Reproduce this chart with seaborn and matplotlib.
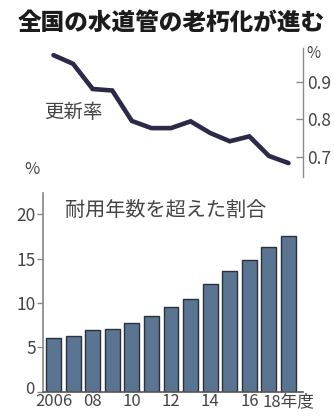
import numpy as np
import pandas as pd
import matplotlib
matplotlib.use("Agg")
import matplotlib.pyplot as plt
import matplotlib.transforms as mtransforms
import seaborn as sns

years = ["2006", "2007", "2008", "2009", "2010", "2011", "2012",
         "2013", "2014", "2015", "2016", "2017", "2018"]
tick_labels = ["2006", "", "08", "", "10", "", "12", "", "14", "", "16", "", "18年度"]
renewal_rate = [0.971, 0.948, 0.881, 0.877, 0.796, 0.777, 0.777,
                0.795, 0.764, 0.742, 0.755, 0.703, 0.684]
over_life_share = [6.0, 6.3, 7.0, 7.1, 7.8, 8.5, 9.5,
                   10.5, 12.1, 13.6, 14.8, 16.3, 17.6]

sns.set_theme(style="white")
plt.rcParams['font.family'] = ['Noto Sans CJK JP', 'DejaVu Sans']

W, H = 334, 417
fig = plt.figure(figsize=(W / 100, H / 100), dpi=100)
fig.patch.set_facecolor("white")

def ax_rect(l, t, r, b):
    return [l / W, 1 - b / H, (r - l) / W, (b - t) / H]

text_col = "#444444"
spine_col = "#8a8a8a"
xlim = (-0.536, 12.74)

# --- top: renewal rate line ---
ax1 = fig.add_axes(ax_rect(43, 48, 303, 177))
df_line = pd.DataFrame({"pos": np.arange(len(years)), "rate": renewal_rate})
sns.lineplot(data=df_line, x="pos", y="rate", ax=ax1, color="#2b2a48",
             linewidth=3.3, solid_joinstyle="miter")
ax1.set_xlim(*xlim)
ax1.set_ylim(0.647, 0.99)
for s in ["left", "top", "bottom"]:
    ax1.spines[s].set_visible(False)
ax1.spines["right"].set_color(spine_col)
ax1.spines["right"].set_linewidth(1.0)
ax1.yaxis.tick_right()
ax1.set_yticks([0.7, 0.8, 0.9])
ax1.set_yticklabels(["0.7", "0.8", "0.9"])
ax1.tick_params(axis="y", direction="in", length=5, width=1, color=spine_col,
                labelsize=12.5, labelcolor=text_col, pad=3, right=True, left=False)
ax1.set_xticks([])
ax1.set_xlabel("")
ax1.set_ylabel("")
ax1.patch.set_alpha(0)

# --- bottom: bars ---
ax2 = fig.add_axes(ax_rect(43, 193, 303, 391.7))
df_bar = pd.DataFrame({"year": years, "share": over_life_share})
sns.barplot(data=df_bar, x="year", y="share", ax=ax2, color="#5a7591",
            saturation=1, edgecolor="#2c3038", linewidth=1.0, width=0.76)
ax2.set_xlim(*xlim)
ax2.set_ylim(0, 22.4)
ax2.spines["top"].set_visible(False)
ax2.spines["right"].set_visible(False)
ax2.spines["left"].set_color(spine_col)
ax2.spines["bottom"].set_color("#555555")
ax2.spines["bottom"].set_linewidth(1.2)
ax2.set_yticks([0, 5, 10, 15, 20])
ax2.set_yticklabels(["0", "5", "10", "15", "20"])
ax2.tick_params(axis="y", direction="out", length=4, width=1, color=spine_col,
                labelsize=12.5, labelcolor=text_col, pad=1, left=True)
ax2.set_xticks(range(len(years)))
ax2.set_xticklabels(tick_labels)
ax2.tick_params(axis="x", length=0, labelsize=12, labelcolor=text_col, pad=1)
ax2.set_xlabel("")
ax2.set_ylabel("")
ax2.patch.set_alpha(0)

# lift the "0" label slightly so it clears "2006", as in the reference
zero_lbl = ax2.get_yticklabels()[0]
zero_lbl.set_transform(zero_lbl.get_transform() +
                       mtransforms.ScaledTranslation(-2 / 100, 4 / 100, fig.dpi_scale_trans))
zero_lbl.set_fontsize(12)

# --- texts ---
fig.text(171 / W, 1 - 23 / H, "全国の水道管の老朽化が進む", ha="center", va="center",
         fontsize=17, fontweight="heavy", color="#1c1c1c")
fig.text(313 / W, 1 - 54 / H, "%", ha="center", va="center", fontsize=11, color=text_col)
fig.text(73 / W, 1 - 112 / H, "更新率", ha="center", va="center", fontsize=14, color=text_col)
fig.text(32 / W, 1 - 170 / H, "%", ha="center", va="center", fontsize=12, color=text_col)
fig.text(65 / W, 1 - 210 / H, "耐用年数を超えた割合", ha="left", va="center",
         fontsize=14.5, color=text_col)

fig.savefig("out.png", dpi=100, facecolor="white")
